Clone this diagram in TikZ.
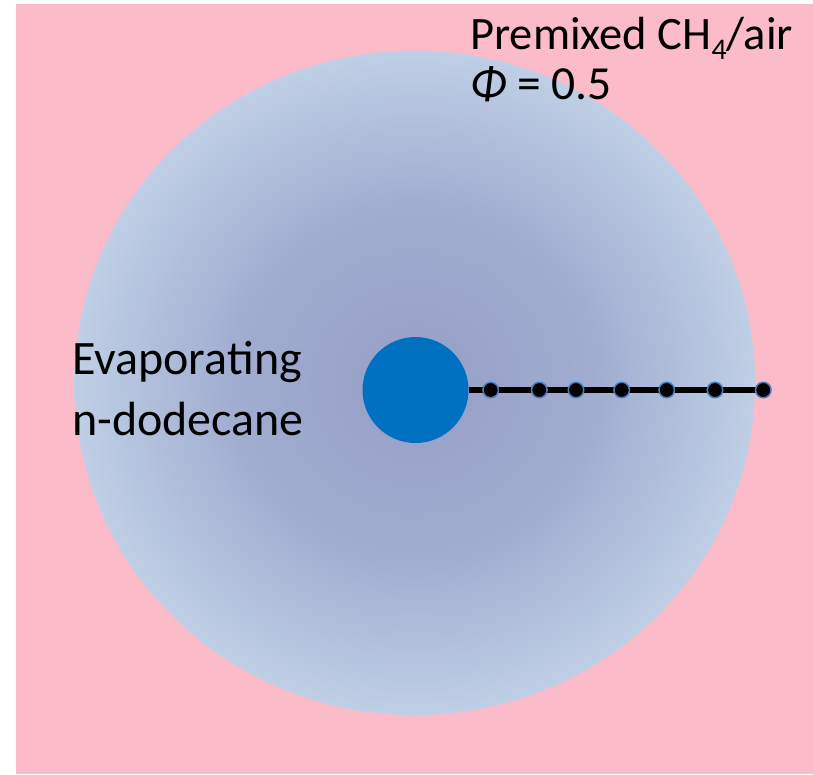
\documentclass[tikz,border=0pt]{standalone}
\usepackage{fontspec}
\setmainfont{Carlito}
\definecolor{bgpink}{RGB}{251,187,200}
\definecolor{glowin}{RGB}{150,158,198}
\definecolor{glowmid}{RGB}{160,172,208}
\definecolor{glowout}{RGB}{191,207,229}
\definecolor{dropblue}{RGB}{0,112,192}
\definecolor{dotedge}{RGB}{74,126,187}
\pgfdeclareradialshading{glowshade}{\pgfpoint{0bp}{0bp}}{color(0bp)=(glowin); color(13bp)=(glowmid); color(25bp)=(glowout); color(50bp)=(glowout)}
\begin{document}
\begin{tikzpicture}[x=1pt,y=-1pt,
  dotnode/.style={circle,fill=black,draw=dotedge,line width=1.5pt,minimum size=15.5pt,inner sep=0pt},
  lbl/.style={inner sep=0pt,anchor=base west,text=black}]
\useasboundingbox (0,0) rectangle (813,774);
\fill[white] (0,0) rectangle (813,774);
\fill[bgpink] (16,4) rectangle (813,774);
\shade[shading=glowshade] (414.7,382.8) ellipse[x radius=340.3,y radius=332.2];
\node[circle,fill=dropblue,minimum size=106pt,inner sep=0pt] (drop) at (415.5,390) {};
\coordinate (c1) at (490.7,390);
\coordinate (c2) at (539.3,390);
\coordinate (c3) at (576,390);
\coordinate (c4) at (621.7,390);
\coordinate (c5) at (666.7,390);
\coordinate (c6) at (715,390);
\coordinate (c7) at (763.3,390);
\draw[line width=5.5pt] (drop.east) -- (c7);
\foreach \i in {1,...,7} \node[dotnode] (d\i) at (c\i) {};
\node[lbl,font=\fontsize{48}{58}\selectfont] (ev) at (72,374) {Evaporating};
\node[lbl,font=\fontsize{48}{58}\selectfont] (nd) at (72,435) {n-dodecane};
\node[lbl,font=\fontsize{46.5}{54}\selectfont] (pm) at (470,49) {Premixed CH\raisebox{-0.22em}{\fontsize{30}{30}\selectfont 4}/air};
\node[lbl,font=\fontsize{47.5}{54}\selectfont] (phi) at (470,99.5) {\itshape Φ\upshape{} = 0.5};
\end{tikzpicture}
\end{document}
